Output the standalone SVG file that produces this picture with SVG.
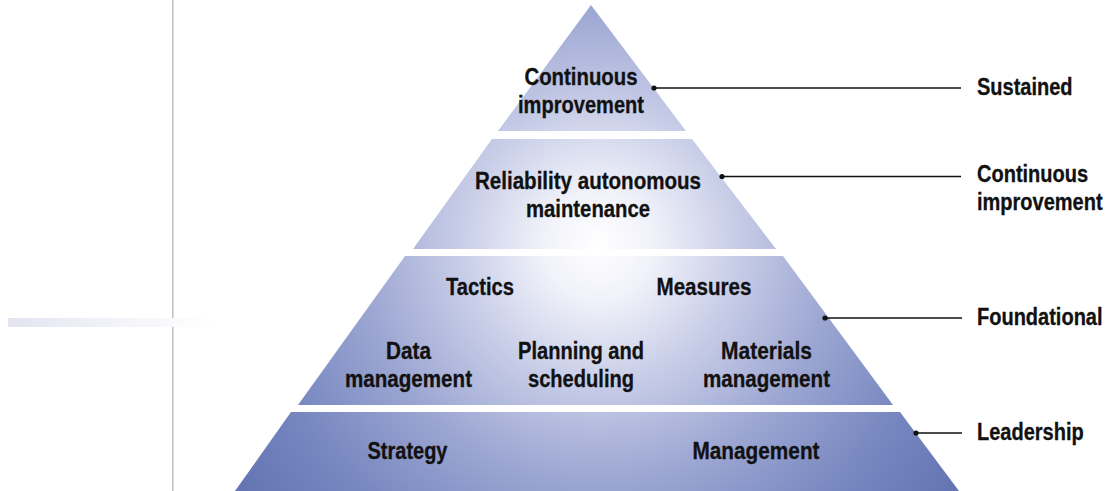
<svg xmlns="http://www.w3.org/2000/svg" width="1110" height="491" viewBox="0 0 1110 491">
  <defs>
    <radialGradient id="glow" gradientUnits="userSpaceOnUse" cx="598" cy="245" r="430">
      <stop offset="0" stop-color="#ffffff"/>
      <stop offset="0.12" stop-color="#f2f3fa"/>
      <stop offset="0.35" stop-color="#c2c8e5"/>
      <stop offset="0.55" stop-color="#9ca6d2"/>
      <stop offset="0.8" stop-color="#7686bf"/>
      <stop offset="1" stop-color="#6575b3"/>
    </radialGradient>
    <linearGradient id="bar" x1="0" y1="0" x2="1" y2="0">
      <stop offset="0" stop-color="#e4e4f1"/>
      <stop offset="0.8" stop-color="#fafafd"/>
      <stop offset="1" stop-color="#ffffff"/>
    </linearGradient>
  </defs>
  <style>
    .tier { fill: url(#glow); }
    text { font-family: "Liberation Sans", Arial, sans-serif; font-weight: bold; font-size: 23px; fill: #111; stroke: #111; stroke-width: 0.3; }
    .c { text-anchor: middle; }
    .lead { stroke: #111; stroke-width: 1.4; fill: none; }
    .dot { fill: #111; }
  </style>

  <!-- side rule and bar -->
  <g id="side">
    <line x1="172.8" y1="0" x2="172.8" y2="491" stroke="#bfbfbf" stroke-width="1.5"/>
    <rect x="8" y="318" width="205" height="9" fill="url(#bar)"/>
  </g>

  <!-- tier 1 -->
  <g id="tier-sustained">
    <polygon class="tier" points="591,5 686,131 498,131"/>
    <text class="c" x="581" y="85" textLength="113" lengthAdjust="spacingAndGlyphs">Continuous</text>
    <text class="c" x="581" y="113" textLength="126" lengthAdjust="spacingAndGlyphs">improvement</text>
  </g>

  <!-- tier 2 -->
  <g id="tier-continuous">
    <polygon class="tier" points="492,139 692,139 776,249 413,249"/>
    <text class="c" x="588" y="189" textLength="226" lengthAdjust="spacingAndGlyphs">Reliability autonomous</text>
    <text class="c" x="588" y="217" textLength="124" lengthAdjust="spacingAndGlyphs">maintenance</text>
  </g>

  <!-- tier 3 -->
  <g id="tier-foundational">
    <polygon class="tier" points="405,256 783,256 893,405 298,405"/>
    <text class="c" x="480" y="295" textLength="68" lengthAdjust="spacingAndGlyphs">Tactics</text>
    <text class="c" x="704" y="295" textLength="95" lengthAdjust="spacingAndGlyphs">Measures</text>
    <text class="c" x="408.5" y="359" textLength="45" lengthAdjust="spacingAndGlyphs">Data</text>
    <text class="c" x="408.5" y="387" textLength="127" lengthAdjust="spacingAndGlyphs">management</text>
    <text class="c" x="581" y="359" textLength="126" lengthAdjust="spacingAndGlyphs">Planning and</text>
    <text class="c" x="581" y="387" textLength="106" lengthAdjust="spacingAndGlyphs">scheduling</text>
    <text class="c" x="766.5" y="359" textLength="91" lengthAdjust="spacingAndGlyphs">Materials</text>
    <text class="c" x="766.5" y="387" textLength="127" lengthAdjust="spacingAndGlyphs">management</text>
  </g>

  <!-- tier 4 -->
  <g id="tier-leadership">
    <polygon class="tier" points="291,412 900,412 959,491 235,491"/>
    <text class="c" x="407.5" y="459" textLength="80" lengthAdjust="spacingAndGlyphs">Strategy</text>
    <text class="c" x="756" y="459" textLength="127" lengthAdjust="spacingAndGlyphs">Management</text>
  </g>

  <!-- leader lines -->
  <g id="connectors">
    <line class="lead" x1="654" y1="88" x2="961" y2="88"/>
    <circle class="dot" cx="654" cy="88" r="2.6"/>
    <line class="lead" x1="722" y1="176.5" x2="961" y2="176.5"/>
    <circle class="dot" cx="722" cy="176.5" r="2.6"/>
    <line class="lead" x1="825" y1="318" x2="962" y2="318"/>
    <circle class="dot" cx="825" cy="318" r="2.6"/>
    <line class="lead" x1="916" y1="433" x2="962" y2="433"/>
    <circle class="dot" cx="916" cy="433" r="2.6"/>
  </g>

  <!-- level labels, narrowed horizontally -->
  <g id="labels">
    <text transform="translate(977,95) scale(0.87,1)">Sustained</text>
    <text transform="translate(977,182) scale(0.87,1)">Continuous</text>
    <text transform="translate(977,210) scale(0.87,1)">improvement</text>
    <text transform="translate(977,325) scale(0.87,1)">Foundational</text>
    <text transform="translate(977,440) scale(0.87,1)">Leadership</text>
  </g>
</svg>
